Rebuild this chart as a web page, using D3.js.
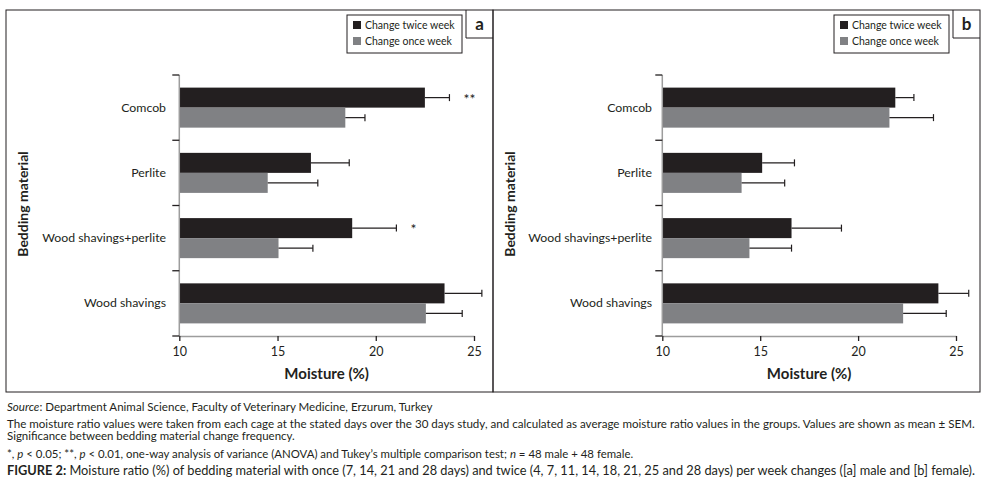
<!DOCTYPE html>
<html>
<head>
<meta charset="utf-8">
<script src="https://cdn.jsdelivr.net/npm/d3@7"></script>
<style>
  body { margin: 0; background: #fff; }
  text { font-family: Lato, "Open Sans", sans-serif; fill: #231f20; }
</style>
</head>
<body>
<svg width="986" height="491"></svg>
<script>
// values (moisture %, mean and SEM)
var categories = ["Comcob", "Perlite", "Wood shavings+perlite", "Wood shavings"];
var seriesNames = ["Change twice week", "Change once week"];
var maleTwice = [22.5, 16.7, 18.8, 23.5];
var maleTwiceSem = [1.25, 1.95, 2.25, 1.9];
var maleOnce = [18.45, 14.5, 15.05, 22.55];
var maleOnceSem = [1.0, 2.55, 1.75, 1.85];
var femaleTwice = [21.9, 15.1, 16.6, 24.1];
var femaleTwiceSem = [0.95, 1.65, 2.55, 1.55];
var femaleOnce = [21.6, 14.05, 14.45, 22.3];
var femaleOnceSem = [2.25, 2.2, 2.15, 2.2];
var maleStars = ["**", "", "*", ""];
var femaleStars = ["", "", "", ""];
var xTicks = [10, 15, 20, 25];

var svg = d3.select("svg");
var colors = d3.scaleOrdinal().domain(seriesNames).range(["#231f20", "#808184"]);

// scale a text's font so it spans the given width
function fit(t, w) {
  var fs = +t.attr("font-size");
  var len = t.node().getComputedTextLength();
  t.attr("font-size", fs * w / len);
}

function drawPanel(p) {
  var g = svg.append("g");

  // outer frame
  g.append("rect")
    .attr("x", p.left).attr("y", 10)
    .attr("width", p.right - p.left).attr("height", 382)
    .attr("fill", "none").attr("stroke", "#231f20").attr("stroke-width", 1);

  var x = d3.scaleLinear().domain([10, 25]).range([p.x0, p.x1]);
  var y = d3.scaleBand().domain(categories).range([75, 336]);
  var ySub = d3.scaleBand().domain(seriesNames).range([0, y.bandwidth()]).paddingOuter(0.63);

  var rows = categories.map(function(c, i) {
    return [
      {cat: c, key: seriesNames[0], v: p.twice[i], sem: p.twiceSem[i]},
      {cat: c, key: seriesNames[1], v: p.once[i], sem: p.onceSem[i]}
    ];
  });
  var flat = [].concat.apply([], rows);

  // bars
  g.append("g").selectAll("rect")
    .data(flat)
    .enter().append("rect")
      .attr("x", x(10))
      .attr("y", function(d) { return y(d.cat) + ySub(d.key); })
      .attr("width", function(d) { return x(d.v) - x(10); })
      .attr("height", ySub.bandwidth())
      .attr("fill", function(d) { return colors(d.key); });

  // y axis line + ticks at band edges
  g.append("line")
    .attr("x1", x(10)).attr("x2", x(10))
    .attr("y1", 75).attr("y2", 336)
    .attr("stroke", "#9d9d9d").attr("stroke-width", 1.5);
  var edges = categories.map(function(c) { return y(c); }).concat([y.range()[1]]);
  g.append("g").selectAll("line")
    .data(edges)
    .enter().append("line")
      .attr("x1", x(10) - 7).attr("x2", x(10))
      .attr("y1", function(d) { return d; }).attr("y2", function(d) { return d; })
      .attr("stroke", "#231f20").attr("stroke-width", 1.3);

  // error bars
  var eb = g.append("g").selectAll("g")
    .data(flat)
    .enter().append("g")
      .attr("stroke", "#231f20").attr("stroke-width", 1.2);
  eb.append("line")
    .attr("x1", function(d) { return x(d.v); })
    .attr("x2", function(d) { return x(d.v + d.sem); })
    .attr("y1", function(d) { return y(d.cat) + ySub(d.key) + ySub.bandwidth() / 2; })
    .attr("y2", function(d) { return y(d.cat) + ySub(d.key) + ySub.bandwidth() / 2; });
  eb.append("line")
    .attr("x1", function(d) { return x(d.v + d.sem); })
    .attr("x2", function(d) { return x(d.v + d.sem); })
    .attr("y1", function(d) { return y(d.cat) + ySub(d.key) + ySub.bandwidth() / 2 - 3.5; })
    .attr("y2", function(d) { return y(d.cat) + ySub(d.key) + ySub.bandwidth() / 2 + 3.5; });

  // significance stars
  g.append("g").selectAll("text")
    .data(rows)
    .enter().append("text")
      .attr("x", function(d) { return x(d[0].v + d[0].sem) + 14; })
      .attr("y", function(d) { return y(d[0].cat) + ySub(d[0].key) + 16; })
      .attr("font-size", 14)
      .attr("fill", "#444")
      .text(function(d, i) { return p.stars[i]; });

  // category labels
  g.append("g").selectAll("text")
    .data(categories)
    .enter().append("text")
      .attr("x", p.labelX)
      .attr("y", function(d) { return y(d) + y.bandwidth() / 2 + 4; })
      .attr("text-anchor", "end")
      .attr("font-size", 12.3)
      .text(function(d) { return d; });

  // x axis
  var ax = g.append("g")
    .attr("transform", "translate(0,336)")
    .call(d3.axisBottom(x).tickValues(xTicks).tickSizeInner(5).tickSizeOuter(0).tickPadding(6));
  ax.select(".domain").attr("stroke", "#9d9d9d").attr("stroke-width", 1.5);
  ax.selectAll(".tick line").attr("stroke", "#231f20").attr("stroke-width", 1.3);
  ax.selectAll(".tick text")
    .attr("font-family", "Lato, sans-serif").attr("font-size", 12.5).attr("fill", "#231f20");

  g.append("text")
    .attr("x", (p.x0 + p.x1) / 2).attr("y", 379)
    .attr("text-anchor", "middle")
    .attr("font-size", 15).attr("font-weight", "bold")
    .text("Moisture (%)");

  g.append("text")
    .attr("transform", "translate(" + (p.left + 22) + ",204) rotate(-90)")
    .attr("text-anchor", "middle")
    .attr("font-size", 14).attr("font-weight", "bold")
    .text("Bedding material");

  // legend
  var lg = g.append("g").attr("transform", "translate(" + p.legendX + ",15)");
  lg.append("rect")
    .attr("width", 115).attr("height", 38)
    .attr("fill", "#fff").attr("stroke", "#231f20").attr("stroke-width", 1);
  var li = lg.selectAll(".li")
    .data(seriesNames)
    .enter().append("g")
      .attr("transform", function(d, i) { return "translate(6," + (6 + i * 16) + ")"; });
  li.append("rect").attr("width", 8).attr("height", 8)
    .attr("fill", function(d) { return colors(d); });
  li.append("text").attr("x", 12).attr("y", 7.5)
    .attr("font-size", 10.5)
    .text(function(d) { return d; });

  // panel letter
  g.append("path")
    .attr("d", "M" + (p.right - 27) + ",10V38H" + p.right)
    .attr("fill", "none").attr("stroke", "#231f20");
  g.append("text")
    .attr("x", p.right - 13.5).attr("y", 30)
    .attr("text-anchor", "middle")
    .attr("font-size", 17).attr("font-weight", "bold")
    .text(p.letter);
}

drawPanel({
  left: 6, right: 493, x0: 179.3, x1: 474, labelX: 166, legendX: 347, letter: "a",
  twice: maleTwice, twiceSem: maleTwiceSem, once: maleOnce, onceSem: maleOnceSem, stars: maleStars
});
drawPanel({
  left: 493, right: 980, x0: 662.3, x1: 956, labelX: 652, legendX: 834, letter: "b",
  twice: femaleTwice, twiceSem: femaleTwiceSem, once: femaleOnce, onceSem: femaleOnceSem, stars: femaleStars
});

// caption
var cap = svg.append("g").attr("transform", "translate(7,0)");
var c1 = cap.append("text").attr("y", 411).attr("font-size", 11);
c1.append("tspan").attr("font-style", "italic").text("Source");
c1.append("tspan").text(": Department Animal Science, Faculty of Veterinary Medicine, Erzurum, Turkey");
fit(c1, 426);
var c2 = cap.append("text").attr("y", 428).attr("font-size", 11)
  .text("The moisture ratio values were taken from each cage at the stated days over the 30 days study, and calculated as average moisture ratio values in the groups. Values are shown as mean \u00b1 SEM.");
fit(c2, 969);
var c3 = cap.append("text").attr("y", 440).attr("font-size", 11)
  .text("Significance between bedding material change frequency.");
fit(c3, 288);
var c4 = cap.append("text").attr("y", 458).attr("font-size", 11);
c4.append("tspan").text("*, ");
c4.append("tspan").attr("font-style", "italic").text("p");
c4.append("tspan").text(" < 0.05; **, ");
c4.append("tspan").attr("font-style", "italic").text("p");
c4.append("tspan").text(" < 0.01, one-way analysis of variance (ANOVA) and Tukey\u2019s multiple comparison test; ");
c4.append("tspan").attr("font-style", "italic").text("n");
c4.append("tspan").text(" = 48 male + 48 female.");
fit(c4, 627);
var c5 = cap.append("text").attr("y", 475).attr("font-size", 13);
c5.append("tspan").attr("font-weight", "bold").text("FIGURE 2:");
c5.append("tspan").text(" Moisture ratio (%) of bedding material with once (7, 14, 21 and 28 days) and twice (4, 7, 11, 14, 18, 21, 25 and 28 days) per week changes ([a] male and [b] female).");
fit(c5, 969);
</script>
</body>
</html>
